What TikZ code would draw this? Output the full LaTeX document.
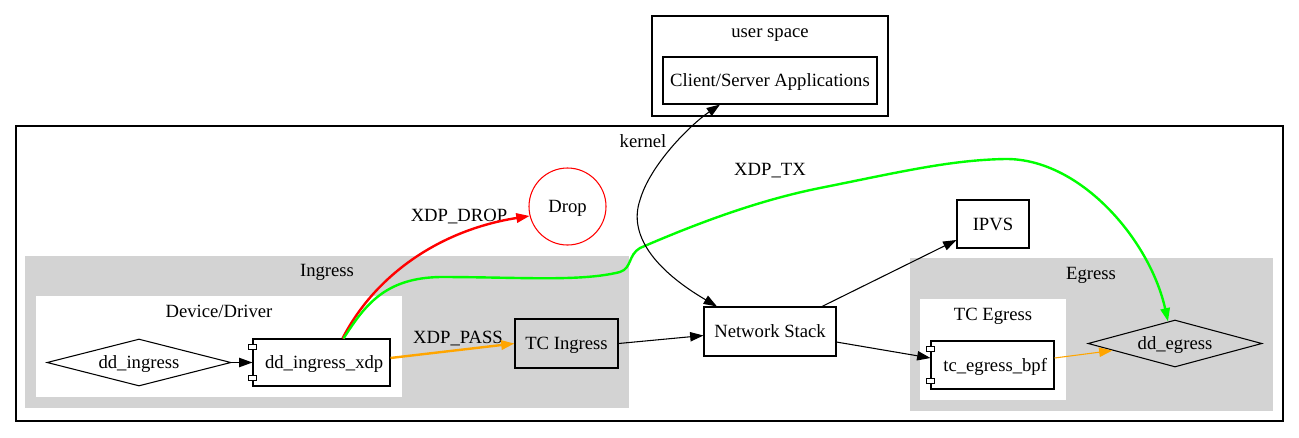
\documentclass[tikz,border=0pt]{standalone}
\usepackage{fontspec}
\setmainfont{Liberation Serif}
\usetikzlibrary{arrows.meta,shapes.geometric}
\definecolor{gvgray}{RGB}{211,211,211}
\definecolor{gvgreen}{RGB}{0,255,0}
\definecolor{gvorange}{RGB}{255,165,0}
\definecolor{gvred}{RGB}{255,0,0}
\tikzset{
  every node/.style={text height=10pt,text depth=1pt},
  boxnode/.style={draw=black,line width=0.8pt,rectangle,inner sep=0pt,fill=white},
  diamondnode/.style={draw=black,line width=0.8pt,diamond,aspect=4,inner sep=0pt,fill=white},
  lbl/.style={inner sep=0pt},
  edgearrow/.style={line width=0.8pt,-{Triangle[length=10pt,width=7pt]}},
  thickarrow/.style={line width=1.8pt,-{Triangle[length=10pt,width=7pt]}},
  clusterline/.style={draw=black,line width=0.8pt},
}
\newcommand{\compticks}[1]{%
  \draw[line width=0.7pt,fill=white] ([xshift=-3pt,yshift=-4.5pt]#1.north west) rectangle ([xshift=3pt,yshift=-8.25pt]#1.north west);
  \draw[line width=0.7pt,fill=white] ([xshift=-3pt,yshift=4.5pt]#1.south west) rectangle ([xshift=3pt,yshift=8.25pt]#1.south west);
}
\begin{document}
\begin{tikzpicture}[x=0.75pt,y=-0.75pt,font=\fontsize{14pt}{16.8pt}\selectfont]
\useasboundingbox (0,0) rectangle (1299,437);
\fill[white] (0,0) rectangle (1299,437);
% clusters
\draw[clusterline] (16,126) rectangle (1283,421);
\draw[clusterline] (652,16) rectangle (888,116);
\fill[gvgray] (25,256) rectangle (629,408);
\fill[white] (36,296) rectangle (402,397);
\fill[gvgray] (910,258) rectangle (1273,411);
\fill[white] (920,299) rectangle (1066,400);
\node[lbl] (lkernel) at (643,141) {kernel};
\node[lbl] (luser) at (770,31) {user space};
\node[lbl] (lingress) at (327,270) {Ingress};
\node[lbl] (ldev) at (219,311) {Device/Driver};
\node[lbl] (legress) at (1091,273) {Egress};
\node[lbl] (ltce) at (993,314) {TC Egress};
% nodes
\node[boxnode,minimum width=160.5pt,minimum height=35.25pt] (cs) at (770,80.5) {Client/Server Applications};
\node[diamondnode,minimum width=138pt,minimum height=35.25pt] (ddi) at (139,362.5) {dd\_ingress};
\node[boxnode,minimum width=102.75pt,minimum height=35.25pt] (xdp) at (321.5,362.5) {\hspace*{4pt}dd\_ingress\_xdp};
\compticks{xdp}
\node[boxnode,fill=gvgray,minimum width=77.25pt,minimum height=36.75pt] (tci) at (566.5,343.5) {TC Ingress};
\node[draw=gvred,line width=0.8pt,circle,minimum size=57.75pt,inner sep=0pt] (drop) at (567.5,206.5) {Drop};
\node[boxnode,minimum width=99pt,minimum height=36.75pt] (ns) at (770,331.5) {Network Stack};
\node[boxnode,minimum width=54pt,minimum height=36pt] (ipvs) at (993,224) {IPVS};
\node[boxnode,minimum width=92.25pt,minimum height=36pt] (tce) at (992.5,365) {\hspace*{4pt}tc\_egress\_bpf};
\compticks{tce}
\node[diamondnode,fill=gvgray,minimum width=130.5pt,minimum height=35.25pt] (dde) at (1175,343.5) {dd\_egress};
% edge labels
\node[lbl] (ldrop) at (459,215) {XDP\_DROP};
\node[lbl] (lpass) at (458,337) {XDP\_PASS};
\node[lbl] (ltx) at (770,169) {XDP\_TX};
% edges
\draw[edgearrow] (ddi.east) -- (xdp.west);
\draw[thickarrow,draw=gvred] ([xshift=15.75pt]xdp.north) .. controls (375,275) and (440,230) .. (drop.194);
\draw[thickarrow,draw=gvorange] ([yshift=3.4pt]xdp.east) -- (tci.west);
\draw[thickarrow,draw=gvgreen] ([xshift=16.5pt]xdp.north)
  .. controls (365,305) and (385,278) .. (440,277)
  .. controls (520,277) and (580,282) .. (620,272)
  .. controls (632,268) and (628,255) .. (640,248)
  .. controls (700,222) and (760,200) .. (820,188)
  .. controls (900,172) and (950,160) .. (1005,159)
  .. controls (1080,158) and (1150,240) .. ([xshift=-5.25pt,yshift=-1.5pt]dde.north);
\draw[edgearrow] (tci.east) -- ([yshift=-3pt]ns.west);
\draw[line width=0.8pt,{Triangle[length=10pt,width=7pt]}-{Triangle[length=10pt,width=7pt]}] ([xshift=-39.75pt]ns.north)
  .. controls (655,270) and (628,235) .. (640,200)
  .. controls (650,165) and (690,125) .. ([xshift=-37.5pt]cs.south);
\draw[edgearrow] ([xshift=39pt]ns.north) -- ([yshift=-12pt]ipvs.west);
\draw[edgearrow] ([yshift=-7.9pt]ns.east) -- ([yshift=5.25pt]tce.west);
\draw[edgearrow,draw=gvorange] ([yshift=5.25pt]tce.east) -- ([xshift=18.75pt,yshift=-5.25pt]dde.west);
\end{tikzpicture}
\end{document}
